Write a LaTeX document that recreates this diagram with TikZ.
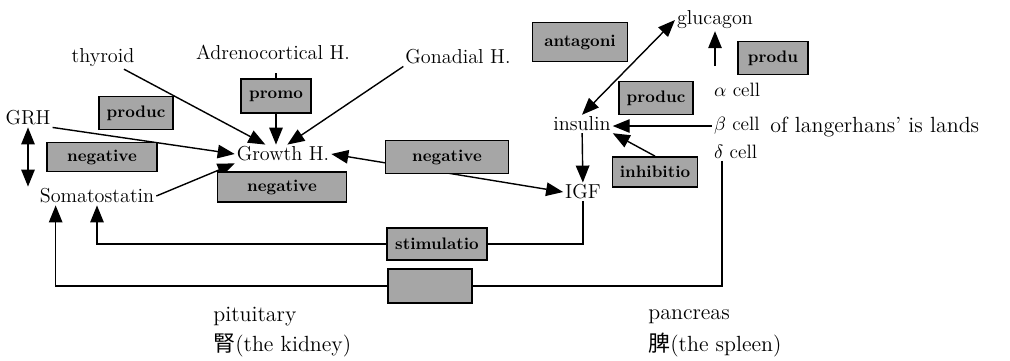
\documentclass[tikz,border=0pt]{standalone}
\usepackage{fontspec}
\newfontfamily\cjk{Noto Sans CJK KR}
\usepackage{tikz}
\usetikzlibrary{arrows.meta}

\begin{document}
\begin{tikzpicture}[x=0.02cm, y=-0.02cm, hormone/.style={inner sep=1pt, font=\fontsize{11.5}{13}\selectfont}, cell/.style={anchor=west, inner sep=1pt, font=\fontsize{11}{13}\selectfont}, tag/.style={rectangle, draw=black, fill=black!35, line width=1pt, inner sep=0pt, font=\fontsize{9.5}{11}\selectfont\bfseries}, organ/.style={anchor=west, inner sep=0pt, font=\fontsize{12.5}{15}\selectfont}, link/.style={thick, -{Triangle[length=3.4mm, width=2.7mm]}}, both/.style={thick, {Triangle[length=3.4mm, width=2.7mm]}-{Triangle[length=3.4mm, width=2.7mm]}}]

    \useasboundingbox (0,0) rectangle (1010,360);

    % Nodes
    \node[hormone]  (thyroid)   at (103,58)     {thyroid};
    \node[hormone]  (adreno)    at (273,52)     {Adrenocortical H.};
    \node[hormone]  (gonad)     at (458,57)     {Gonadial H.};
    \node[hormone]  (grh)       at (28,118)     {GRH};
    \node[hormone]  (growth)    at (283,154)    {Growth H.};
    \node[hormone]  (soma)      at (97,196)     {Somatostatin};
    \node[hormone]  (igf)       at (583,192)    {IGF};
    \node[hormone]  (insulin)   at (582,124)    {insulin};
    \node[hormone]  (glucagon)  at (715,20)     {glucagon};
    \node[cell]     (alpha)     at (712,90)     {$\alpha$ cell};
    \node[cell]     (beta)      at (712,126)    {$\beta$ cell};
    \node[cell]     (delta)     at (712,152)    {$\delta$ cell};
    \node[organ]    (islands)   at (770,127)    {of langerhans' is lands};
    \node[organ]    (pituitary) at (213,317)    {pituitary};
    \node[organ]    (kidney)    at (213,345)    {{\cjk 腎}(the kidney)};
    \node[organ]    (pancreas)  at (648,317)    {pancreas};
    \node[organ]    (spleen)    at (648,345)    {{\cjk 脾}(the spleen)};

    % Tags on the links
    \node[tag, minimum width=1.40cm, minimum height=0.68cm] (promo)   at (276,96)   {promo};
    \node[tag, minimum width=1.70cm, minimum height=0.60cm] (inhib)   at (655,172)  {inhibitio};
    \node[tag, minimum width=2.00cm, minimum height=0.64cm] (stim)    at (437,244)  {stimulatio};
    \node[tag, minimum width=1.68cm, minimum height=0.68cm] (blank)   at (430,286)  {};

    % Lines ---------------
    \draw[link] (thyroid) -- (growth);
    \draw[thick, shorten <=0.24cm] (promo.north |- adreno.south) -- (promo.north);
    \draw[link] (promo.south) -- (promo.south |- growth.north);
    \draw[link] (gonad.south west) -- (growth.65);
    \draw[link] (grh.south east) -- (growth.west);
    \draw[link] (soma.east) -- (growth.south west);
    \draw[both] (grh.south) -- (grh.south |- soma.north);
    \draw[both] (growth.east) -- (igf.west);
    \draw[link] (insulin) -- (igf);
    \draw[both] (glucagon.west) -- (insulin.north);
    \draw[link, shorten <=0.3cm] (glucagon.south |- alpha.north) -- (glucagon.south);
    \draw[link] (beta.west) -- (beta.west -| insulin.east);
    \draw[link] (inhib.north) -- (insulin.south east);
    \draw[thick] (igf.south) |- (stim.east);
    \draw[link] (stim.west) -| (soma.south);
    \draw[thick] ([xshift=0.2cm]delta.south west) |- (blank.east);
    \draw[link] (blank.west) -| ([xshift=0.36cm]soma.south west);

    % Tags ---------------
    \node[tag, minimum width=1.48cm, minimum height=0.66cm] (producl) at (136,113)  {produc};
    \node[tag, minimum width=2.20cm, minimum height=0.58cm] (negl)    at (102,157)  {negative};
    \node[tag, minimum width=2.58cm, minimum height=0.60cm] (negb)    at (282,187)  {negative};
    \node[tag, minimum width=2.46cm, minimum height=0.66cm] (negm)    at (447,157)  {negative};
    \node[tag, minimum width=1.90cm, minimum height=0.78cm] (antag)   at (580,42)   {antagoni};
    \node[tag, minimum width=1.48cm, minimum height=0.66cm] (producr) at (656,98)   {produc};
    \node[tag, minimum width=1.40cm, minimum height=0.66cm] (produ)   at (773,58)   {produ};

\end{tikzpicture}
\end{document}
